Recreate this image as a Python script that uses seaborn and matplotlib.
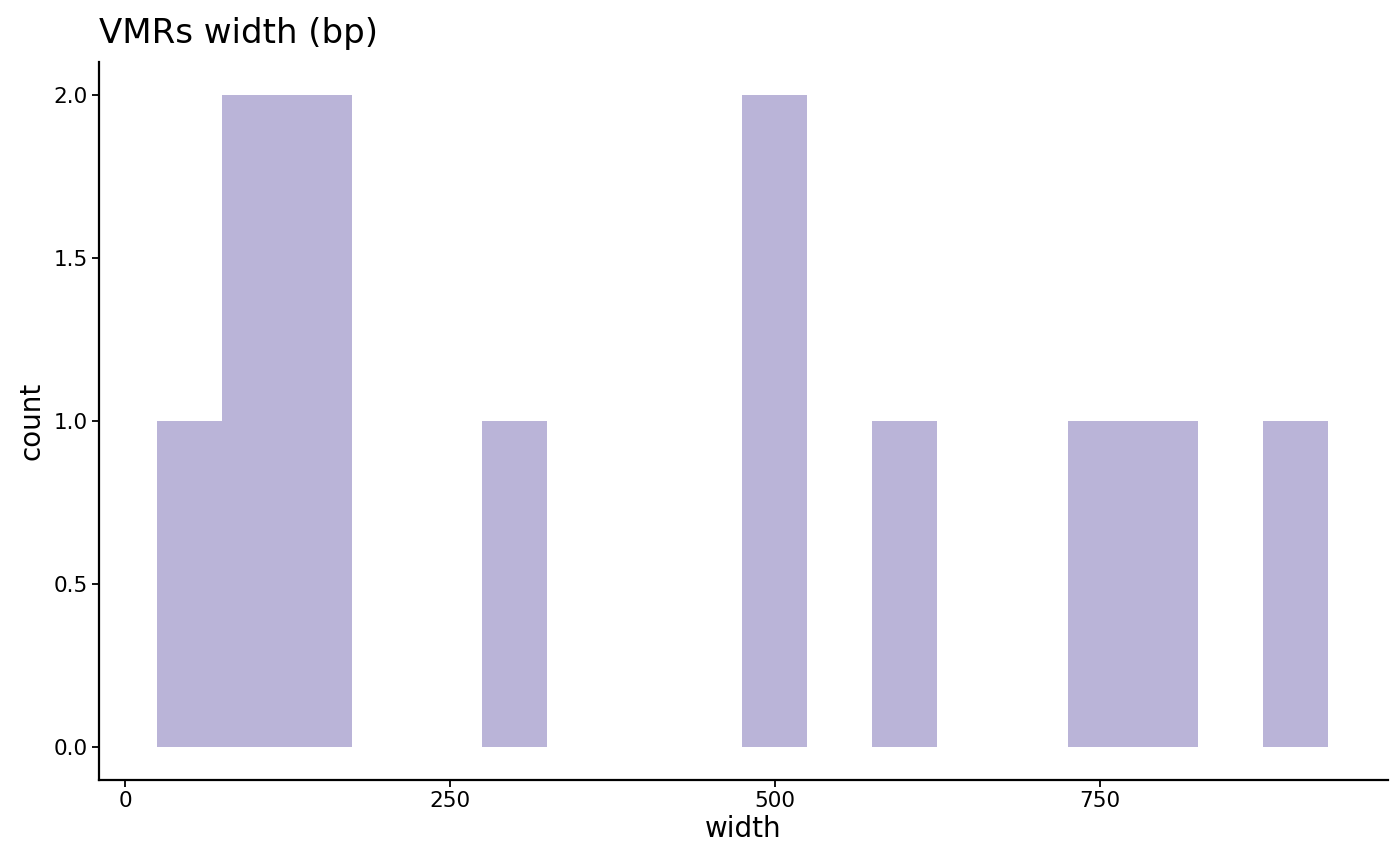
import numpy as np
import pandas as pd
import matplotlib
matplotlib.use("Agg")
import matplotlib.pyplot as plt
import seaborn as sns

# ==============================
# DATA (bin centres and counts)
# ==============================

bin_centres = [50, 100, 150, 300, 500, 600, 750, 800, 900]
bin_counts = [1, 2, 2, 1, 2, 1, 1, 1, 1]
bin_width = 50

df = pd.DataFrame({"width": bin_centres, "n": bin_counts})

# ==============================
# PLOT
# ==============================

sns.set_theme(style="ticks")
plt.rcParams["font.family"] = ["DejaVu Sans"]

fig = plt.figure(figsize=(14, 8.65), dpi=100)
ax = fig.add_axes([0.0707, 0.0983, 0.9207, 0.8297])

sns.histplot(
    data=df,
    x="width",
    weights="n",
    binwidth=bin_width,
    binrange=(25, 925),
    color="#BAB4D8",
    alpha=1,
    linewidth=0,
    ax=ax,
)

ax.set_xlim(-20, 971.5)
ax.set_ylim(-0.1, 2.1)
ax.set_xticks([0, 250, 500, 750])
ax.set_yticks([0, 0.5, 1.0, 1.5, 2.0])
ax.set_yticklabels(["0.0", "0.5", "1.0", "1.5", "2.0"])

ax.set_xlabel("width", fontsize=20, color="black", labelpad=3)
ax.set_ylabel("count", fontsize=20, color="black", labelpad=6)
ax.set_title("VMRs width (bp)", fontsize=24.5, loc="left", x=0, pad=14, color="black")

ax.tick_params(axis="both", labelsize=15.5, colors="black", length=5, width=1.3, pad=3)
for side in ["top", "right"]:
    ax.spines[side].set_visible(False)
for side in ["left", "bottom"]:
    ax.spines[side].set_linewidth(1.6)
    ax.spines[side].set_color("black")

plt.savefig("out.png", dpi=100)
